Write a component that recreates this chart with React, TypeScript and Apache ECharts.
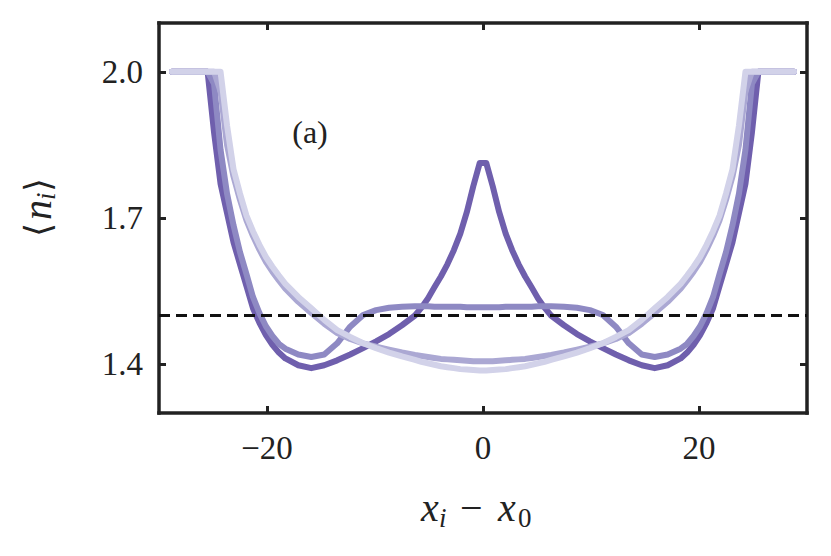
import React, { useEffect, useRef } from "react";
import * as echarts from "echarts";

// positions x_i - x_0
const X = [
  -28.8, -27.3, -26.1, -25.5, -24.9, -24.3, -23.7, -23.1, -22.5, -21.9, -21.3, -20.7,
  -20.1, -19.5, -18.9, -18.3, -17.1, -15.9, -14.7, -13.5, -12.3, -11.1, -9.9, -8.7,
  -7.5, -6.3, -5.7, -5.1, -4.5, -3.9, -3.3, -2.7, -2.1, -1.5, -0.9, -0.3,
  0.3, 0.9, 1.5, 2.1, 2.7, 3.3, 3.9, 4.5, 5.1, 5.7, 6.3, 7.5,
  8.7, 9.9, 11.1, 12.3, 13.5, 14.7, 15.9, 17.1, 18.3, 18.9, 19.5, 20.1,
  20.7, 21.3, 21.9, 22.5, 23.1, 23.7, 24.3, 24.9, 25.5, 26.1, 27.3, 28.8,
];

// <n_i> curves, darkest to lightest
const N1 = [
  2.0, 2.0, 2.0, 2.0, 1.875, 1.77, 1.71, 1.65, 1.605, 1.56, 1.515, 1.485,
  1.46, 1.44, 1.424, 1.412, 1.398, 1.392, 1.398, 1.408, 1.42, 1.433, 1.447, 1.462,
  1.48, 1.5, 1.516, 1.535, 1.558, 1.58, 1.605, 1.634, 1.668, 1.712, 1.765, 1.813,
  1.813, 1.765, 1.712, 1.668, 1.634, 1.605, 1.58, 1.558, 1.535, 1.516, 1.5, 1.48,
  1.462, 1.447, 1.433, 1.42, 1.408, 1.398, 1.392, 1.398, 1.412, 1.424, 1.44, 1.46,
  1.485, 1.515, 1.56, 1.605, 1.65, 1.71, 1.77, 1.875, 2.0, 2.0, 2.0, 2.0,
];
const N2 = [
  2.0, 2.0, 2.0, 2.0, 1.975, 1.84, 1.75, 1.685, 1.63, 1.585, 1.538, 1.505,
  1.478, 1.458, 1.442, 1.432, 1.42, 1.415, 1.42, 1.443, 1.477, 1.501, 1.511, 1.516,
  1.518, 1.519, 1.519, 1.519, 1.518, 1.518, 1.518, 1.518, 1.518, 1.517, 1.517, 1.517,
  1.517, 1.517, 1.517, 1.518, 1.518, 1.518, 1.518, 1.518, 1.519, 1.519, 1.519, 1.518,
  1.516, 1.511, 1.501, 1.477, 1.443, 1.42, 1.415, 1.42, 1.432, 1.442, 1.458, 1.478,
  1.505, 1.538, 1.585, 1.63, 1.685, 1.75, 1.84, 1.975, 2.0, 2.0, 2.0, 2.0,
];
const N3 = [
  2.0, 2.0, 2.0, 2.0, 2.0, 1.96, 1.85, 1.785, 1.737, 1.695, 1.663, 1.635,
  1.61, 1.59, 1.572, 1.555, 1.528, 1.505, 1.483, 1.464, 1.452, 1.443, 1.436, 1.43,
  1.424, 1.419, 1.417, 1.415, 1.413, 1.411, 1.41, 1.409, 1.408, 1.407, 1.406, 1.406,
  1.406, 1.406, 1.407, 1.408, 1.409, 1.41, 1.411, 1.413, 1.415, 1.417, 1.419, 1.424,
  1.43, 1.436, 1.443, 1.452, 1.464, 1.483, 1.505, 1.528, 1.555, 1.572, 1.59, 1.61,
  1.635, 1.663, 1.695, 1.737, 1.785, 1.85, 1.96, 2.0, 2.0, 2.0, 2.0, 2.0,
];
const N4 = [
  2.0, 2.0, 2.0, 2.0, 2.0, 2.0, 1.89, 1.8, 1.75, 1.705, 1.673, 1.645,
  1.62, 1.6, 1.582, 1.565, 1.538, 1.515, 1.491, 1.47, 1.456, 1.443, 1.433, 1.424,
  1.416, 1.409, 1.405, 1.402, 1.399, 1.396, 1.394, 1.392, 1.39, 1.389, 1.388, 1.387,
  1.387, 1.388, 1.389, 1.39, 1.392, 1.394, 1.396, 1.399, 1.402, 1.405, 1.409, 1.416,
  1.424, 1.433, 1.443, 1.456, 1.47, 1.491, 1.515, 1.538, 1.565, 1.582, 1.6, 1.62,
  1.645, 1.673, 1.705, 1.75, 1.8, 1.89, 2.0, 2.0, 2.0, 2.0, 2.0, 2.0,
];

const CURVES = [N1, N2, N3, N4];
const COLORS = ["#6f5fad", "#8e89c3", "#aba8d3", "#d2d2e9"];

const REF_X = [-30, 30];
const REF_Y = 1.5;

const X_TICKS = [-20, 0, 20];
const Y_TICKS = [1.4, 1.7, 2.0];

const INK = "#222222";
const SERIF = "Liberation Serif";

function txt(text: string, x: number, y: number, size: number, italic = false, family = SERIF) {
  return {
    type: "text",
    x,
    y,
    style: {
      text,
      fill: INK,
      fontFamily: family,
      fontSize: size,
      fontStyle: italic ? "italic" : "normal",
      verticalAlign: "middle",
      align: "left",
    },
  };
}

export default function App() {
  const ref = useRef<HTMLDivElement>(null);

  useEffect(() => {
    if (!ref.current) return;
    const chart = echarts.init(ref.current, undefined, { renderer: "svg" });

    const axisLine = { show: true, onZero: false, lineStyle: { color: INK, width: 3.5, cap: "square" } };
    const tickStyle = { color: INK, width: 3 };

    const xBase = {
      type: "value" as const,
      min: -30,
      max: 30,
      splitLine: { show: false },
      axisLine,
    };
    const yBase = {
      type: "value" as const,
      min: 1.3,
      max: 2.1,
      splitLine: { show: false },
      axisLine,
    };

    const series: any[] = CURVES.map((ys, k) => ({
      type: "line",
      data: X.map((x, i) => [x, ys[i]]),
      showSymbol: false,
      symbol: "none",
      silent: true,
      lineStyle: { color: COLORS[k], width: 6, cap: "round", join: "round" },
      xAxisIndex: 0,
      yAxisIndex: 0,
    }));
    series.push({
      type: "line",
      data: REF_X.map((x) => [x, REF_Y]),
      showSymbol: false,
      symbol: "none",
      silent: true,
      lineStyle: { color: "#111111", width: 3, type: [11, 6] },
      xAxisIndex: 0,
      yAxisIndex: 0,
    });

    chart.setOption({
      animation: false,
      backgroundColor: "#ffffff",
      grid: { left: 159, right: 24, top: 23, bottom: 143, containLabel: false },
      xAxis: [
        {
          ...xBase,
          position: "bottom",
          axisTick: { show: true, inside: true, length: 7, customValues: X_TICKS, lineStyle: tickStyle },
          axisLabel: {
            show: true,
            customValues: X_TICKS,
            margin: 35,
            verticalAlign: "middle",
            color: INK,
            fontFamily: SERIF,
            fontSize: 33,
            formatter: (v: number) => (v < 0 ? "\u2212" + Math.abs(v) : String(v)),
          },
        },
        {
          ...xBase,
          position: "top",
          axisTick: { show: true, inside: true, length: 7, customValues: X_TICKS, lineStyle: tickStyle },
          axisLabel: { show: false },
        },
      ],
      yAxis: [
        {
          ...yBase,
          position: "left",
          axisTick: { show: true, inside: true, length: 7, customValues: Y_TICKS, lineStyle: tickStyle },
          axisLabel: {
            show: true,
            customValues: Y_TICKS,
            margin: 16,
            color: INK,
            fontFamily: SERIF,
            fontSize: 33,
            formatter: (v: number) => v.toFixed(1),
          },
        },
        {
          ...yBase,
          position: "right",
          axisTick: { show: true, inside: true, length: 7, customValues: Y_TICKS, lineStyle: tickStyle },
          axisLabel: { show: false },
        },
      ],
      series,
      graphic: [
        {
          type: "text",
          x: 310,
          y: 132,
          style: {
            text: "(a)",
            fill: INK,
            fontFamily: SERIF,
            fontSize: 32,
            align: "center",
            verticalAlign: "middle",
          },
        },
        // x-axis title: x_i − x_0
        {
          type: "group",
          x: 0,
          y: 0,
          children: [
            txt("x", 421, 507, 40, true),
            txt("i", 439, 518, 27, true),
            txt("\u2212", 460, 507, 40),
            txt("x", 498, 507, 40, true),
            txt("0", 518, 518, 27),
          ],
        },
        // y-axis title: <n_i>
        {
          type: "group",
          x: 37,
          y: 207,
          rotation: Math.PI / 2,
          children: [
            txt("\u27E8", -30, 0, 36, false, "DejaVu Serif"),
            txt("n", -13, 0, 40, true),
            txt("i", 7, 9, 27, true),
            txt("\u27E9", 15, 0, 36, false, "DejaVu Serif"),
          ],
        },
      ],
    });

    return () => chart.dispose();
  }, []);

  return (
    <div
      ref={ref}
      style={{ position: "fixed", left: 0, top: 0, width: 831, height: 556, background: "#fff" }}
    />
  );
}
